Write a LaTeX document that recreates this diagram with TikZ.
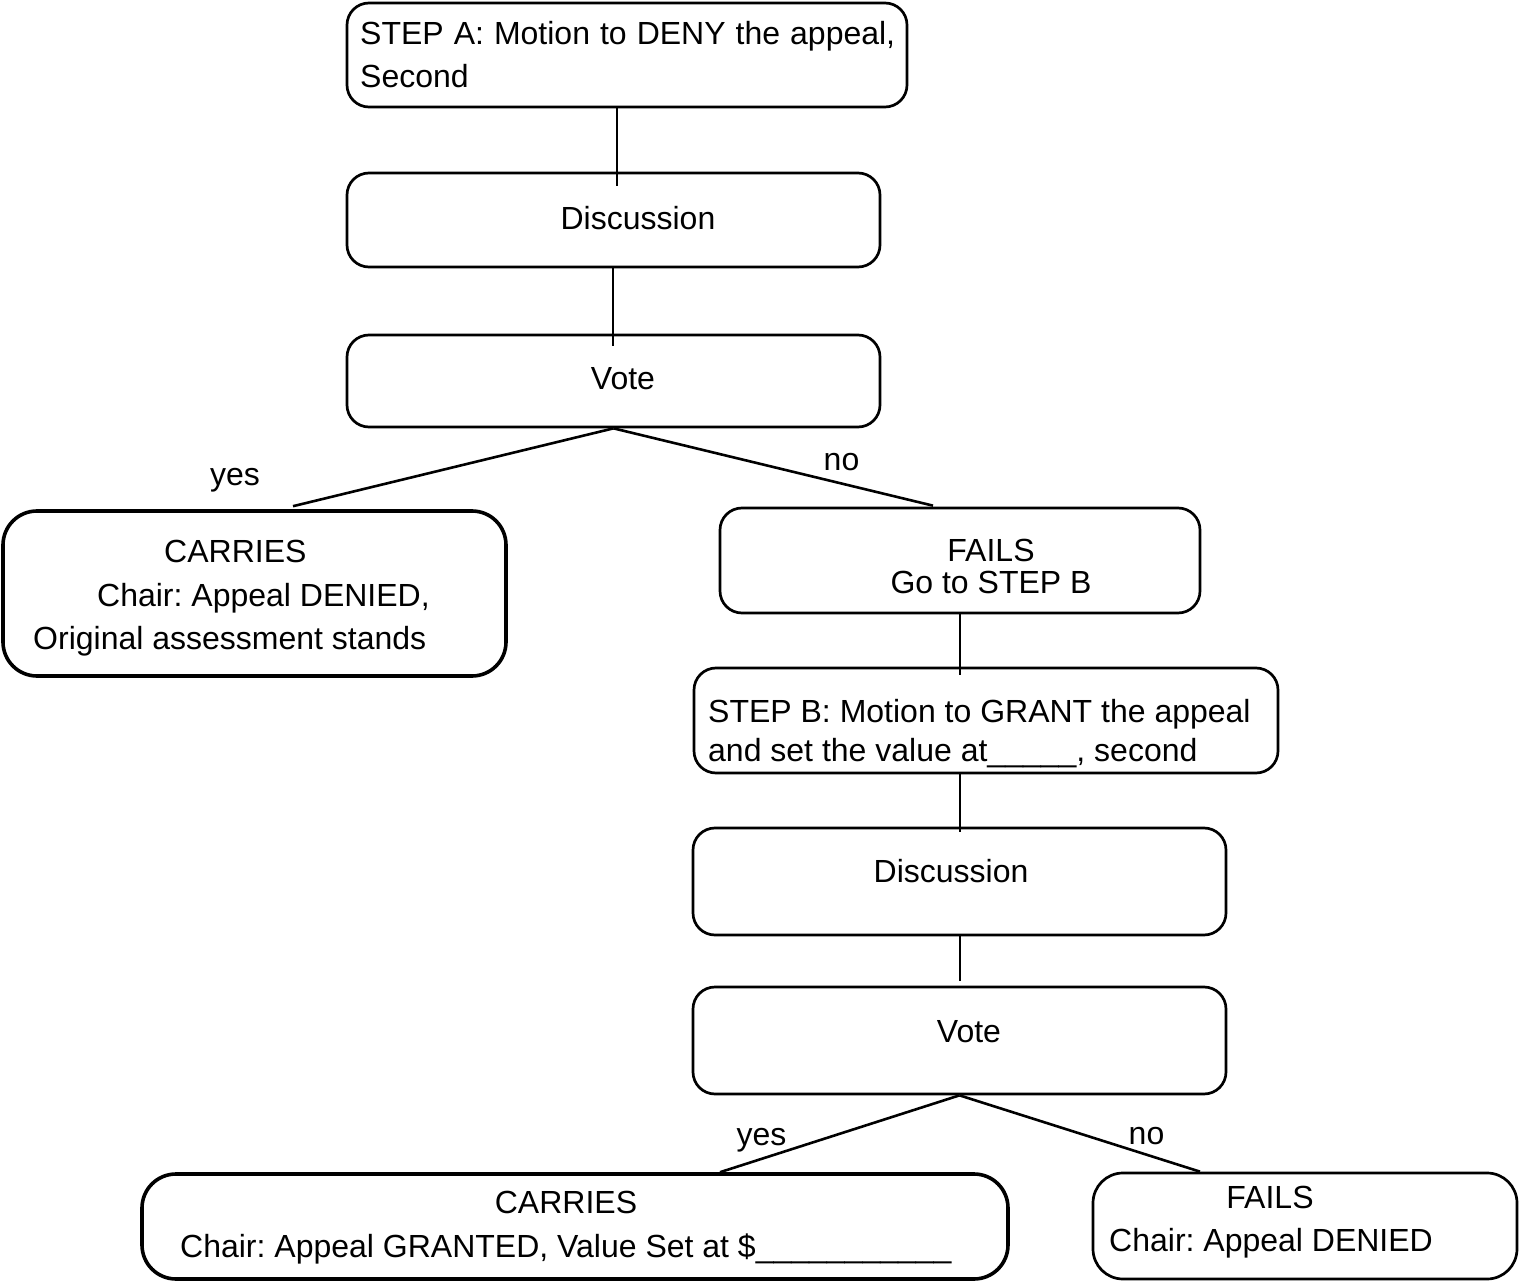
\documentclass[tikz,border=0pt]{standalone}
\usepackage{fontspec}
\setmainfont{Liberation Sans}
\frenchspacing
\begin{document}
\begin{tikzpicture}[x=1pt,y=-1pt,
  box/.style={draw=black, line width=2.7pt, rounded corners=22pt, rectangle, inner sep=0pt},
  thickbox/.style={box, line width=3.6pt, rounded corners=34pt},
  conn/.style={draw=black, line width=2.6pt},
  txt/.style={inner sep=0pt, font=\fontsize{32}{38}\selectfont},
  lt/.style={txt, anchor=base west},
  ct/.style={txt, anchor=base}]
\useasboundingbox (0,0) rectangle (1519,1281);

% boxes
\node[box, minimum width=560pt, minimum height=104pt] (A) at (627,55) {};
\node[box, minimum width=533pt, minimum height=94pt] (D1) at (613.5,220) {};
\node[box, minimum width=533pt, minimum height=92pt] (V1) at (613.5,381) {};
\node[thickbox, minimum width=503pt, minimum height=165pt] (C1) at (254.5,593.5) {};
\node[box, minimum width=480pt, minimum height=105pt] (F1) at (960,560.5) {};
\node[box, minimum width=584pt, minimum height=105pt] (B) at (986,720.5) {};
\node[box, minimum width=533pt, minimum height=107pt] (D2) at (959.5,881.5) {};
\node[box, minimum width=533pt, minimum height=107pt] (V2) at (959.5,1040.5) {};
\node[thickbox, minimum width=866pt, minimum height=105pt] (C2) at (575,1226.5) {};
\node[box, minimum width=424pt, minimum height=106pt, rounded corners=30pt] (F2) at (1305,1226) {};

% connectors
\draw[conn] ([xshift=-10pt]A.south) -- ([xshift=3.5pt,yshift=-14pt]D1.north);
\draw[conn] ([xshift=-0.5pt]D1.south) -- ([xshift=-0.5pt,yshift=-12pt]V1.north);
\draw[conn] (V1.south) -- ([xshift=38.5pt,yshift=3pt]C1.north);
\draw[conn] (V1.south) -- ([xshift=-27pt,yshift=1pt]F1.north);
\draw[conn] (F1.south) -- ([yshift=-8pt]F1.south |- B.north);
\draw[conn] ([xshift=-26pt]B.south) -- ([xshift=0.5pt,yshift=-5pt]D2.north);
\draw[conn] ([xshift=0.5pt]D2.south) -- ([xshift=0.5pt,yshift=5pt]V2.north);
\draw[conn] (V2.south) -- ([xshift=145pt]C2.north);
\draw[conn] (V2.south) -- ([xshift=-105pt,yshift=0pt]F2.north);

% labels
\node[ct] (yes1) at (235,485) {yes};
\node[ct] (no1) at (841.5,470) {no};
\node[ct] (yes2) at (761.5,1145) {yes};
\node[ct] (no2) at (1146.5,1144) {no};

% texts
\node[lt] (tA1) at (360,44.5) {\makebox[535pt][s]{STEP A: Motion to DENY the appeal,}};
\node[lt] (tA2) at (360,87.5) {Second};
\node[ct] (tD1) at (638,229.5) {Discussion};
\node[ct] (tV1) at (623,389.5) {Vote};
\node[lt] (tC11) at (164,562.5) {CARRIES};
\node[lt] (tC12) at (97,606.5) {Chair: Appeal DENIED,};
\node[lt] (tC13) at (33,649.5) {Original assessment stands};
\node[ct] (tF11) at (991,561.5) {FAILS};
\node[ct] (tF12) at (991,593.5) {Go to STEP B};
\node[lt] (tB1) at (708,722.5) {STEP B: Motion to GRANT the appeal};
\node[lt] (tB2) at (708,761.5) {and set the value at\_\_\_\_\_, second};
\node[ct] (tD2) at (951,882.5) {Discussion};
\node[ct] (tV2) at (969,1042.5) {Vote};
\node[ct] (tC21) at (566,1213.5) {CARRIES};
\node[lt] (tC22) at (180,1257) {Chair: Appeal GRANTED, Value Set at \$\_\_\_\_\_\_\_\_\_\_\_};
\node[ct] (tF21) at (1270,1208.5) {FAILS};
\node[lt] (tF22) at (1109,1251.5) {Chair: Appeal DENIED};
\end{tikzpicture}
\end{document}
